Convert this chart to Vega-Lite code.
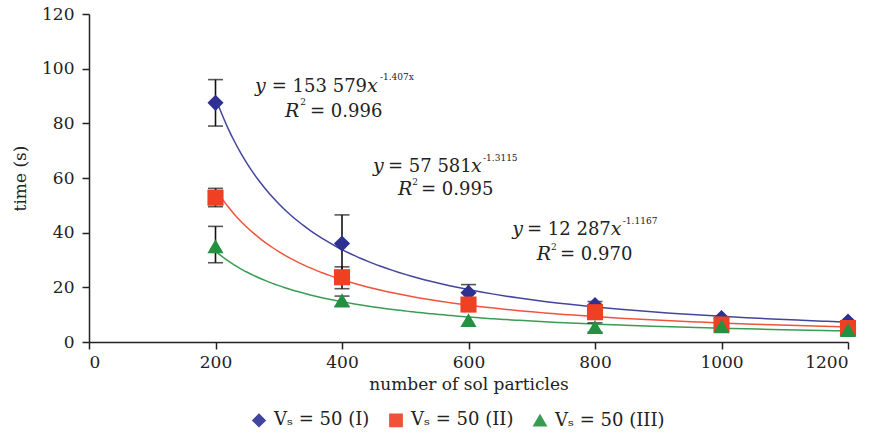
{
  "$schema": "https://vega.github.io/schema/vega-lite/v6.json",
  "width": 759,
  "height": 328,
  "autosize": {"type": "none"},
  "padding": {"left": 89, "top": 14, "right": 22, "bottom": 92},
  "background": "white",
  "config": {
    "view": {"stroke": null},
    "font": "DejaVu Serif",
    "axis": {
      "grid": false,
      "domainColor": "#222",
      "domainWidth": 1.5,
      "tickColor": "#222",
      "tickWidth": 1.5,
      "tickSize": 7,
      "labelFont": "DejaVu Serif",
      "labelFontSize": 17,
      "labelColor": "#222",
      "titleFont": "DejaVu Serif",
      "titleFontSize": 17,
      "titleFontWeight": "normal",
      "titleColor": "#222"
    },
    "legend": {
      "labelFont": "DejaVu Serif",
      "labelFontSize": 18,
      "labelColor": "#222"
    }
  },
  "datasets": {
    "pts": [
      {"n": 200, "t": 87.5, "lo": 79, "hi": 96, "s": "Vₛ = 50 (I)"},
      {"n": 400, "t": 36, "lo": 26, "hi": 46.5, "s": "Vₛ = 50 (I)"},
      {"n": 600, "t": 18, "lo": 15.5, "hi": 21, "s": "Vₛ = 50 (I)"},
      {"n": 800, "t": 13.5, "lo": 12, "hi": 14.8, "s": "Vₛ = 50 (I)"},
      {"n": 1000, "t": 8.8, "lo": null, "hi": null, "s": "Vₛ = 50 (I)"},
      {"n": 1200, "t": 7.5, "lo": null, "hi": null, "s": "Vₛ = 50 (I)"},
      {"n": 200, "t": 52.8, "lo": 49.5, "hi": 56.2, "s": "Vₛ = 50 (II)"},
      {"n": 400, "t": 23.7, "lo": 19.5, "hi": 27.5, "s": "Vₛ = 50 (II)"},
      {"n": 600, "t": 13.7, "lo": null, "hi": null, "s": "Vₛ = 50 (II)"},
      {"n": 800, "t": 10.9, "lo": null, "hi": null, "s": "Vₛ = 50 (II)"},
      {"n": 1000, "t": 6.4, "lo": null, "hi": null, "s": "Vₛ = 50 (II)"},
      {"n": 1200, "t": 5.1, "lo": null, "hi": null, "s": "Vₛ = 50 (II)"},
      {"n": 200, "t": 35, "lo": 29, "hi": 42.3, "s": "Vₛ = 50 (III)"},
      {"n": 400, "t": 15.3, "lo": 13, "hi": 16.8, "s": "Vₛ = 50 (III)"},
      {"n": 600, "t": 8, "lo": null, "hi": null, "s": "Vₛ = 50 (III)"},
      {"n": 800, "t": 5.5, "lo": 3.6, "hi": 7, "s": "Vₛ = 50 (III)"},
      {"n": 1000, "t": 5.8, "lo": null, "hi": null, "s": "Vₛ = 50 (III)"},
      {"n": 1200, "t": 4.4, "lo": null, "hi": null, "s": "Vₛ = 50 (III)"}
    ],
    "ital": [
      {"x": 262.5, "y": 91.5, "text": "y"},
      {"x": 439.5, "y": 91.5, "text": "x"},
      {"x": 310, "y": 82.3, "text": "R"},
      {"x": 449, "y": 62.2, "text": "y"},
      {"x": 604, "y": 62.2, "text": "x"},
      {"x": 488.5, "y": 53.8, "text": "R"},
      {"x": 669, "y": 39.2, "text": "y"},
      {"x": 825, "y": 39.2, "text": "x"},
      {"x": 708, "y": 30.0, "text": "R"}
    ],
    "upright": [
      {"x": 289, "y": 91.5, "text": "= 153 579"},
      {"x": 349.4, "y": 82.3, "text": "= 0.996"},
      {"x": 472.7, "y": 62.2, "text": "= 57 581"},
      {"x": 525, "y": 53.8, "text": "= 0.995"},
      {"x": 692.5, "y": 39.2, "text": "= 12 287"},
      {"x": 744.7, "y": 30.0, "text": "= 0.970"}
    ],
    "sup": [
      {"x": 460, "y": 95.9, "text": "-1.407x"},
      {"x": 334, "y": 86.6, "text": "2"},
      {"x": 623, "y": 66.2, "text": "-1.3115"},
      {"x": 511, "y": 57.3, "text": "2"},
      {"x": 844, "y": 43.2, "text": "-1.1167"},
      {"x": 730.6, "y": 33.5, "text": "2"}
    ]
  },
  "layer": [
    {
      "data": {"name": "pts"},
      "transform": [
        {"regression": "t", "on": "n", "groupby": ["s"], "method": "pow", "extent": [200, 1200]}
      ],
      "mark": {"type": "line", "strokeWidth": 1.5, "interpolate": "monotone", "opacity": 0.9},
      "encoding": {
        "x": {"field": "n", "type": "quantitative", "scale": {"domain": [0, 1200], "nice": false},
              "axis": {"values": [0, 200, 400, 600, 800, 1000, 1200], "format": "d", "labelPadding": 5, "titlePadding": 6},
              "title": "number of sol particles"},
        "y": {"field": "t", "type": "quantitative", "scale": {"domain": [0, 120], "nice": false},
              "axis": {"values": [0, 20, 40, 60, 80, 100, 120], "labelPadding": 8, "titlePadding": 12},
              "title": "time (s)"},
        "color": {"field": "s", "type": "nominal"}
      }
    },
    {
      "data": {"name": "pts"},
      "transform": [{"filter": "isValid(datum.lo)"}],
      "mark": {"type": "errorbar", "ticks": {"size": 15, "color": "#111", "strokeWidth": 1.6}, "color": "#111", "thickness": 1.6},
      "encoding": {
        "x": {"field": "n", "type": "quantitative", "title": "number of sol particles"},
        "y": {"field": "lo", "type": "quantitative", "title": "time (s)"},
        "y2": {"field": "hi"}
      }
    },
    {
      "data": {"name": "pts"},
      "mark": {"type": "point", "filled": true, "opacity": 1, "size": 260},
      "encoding": {
        "x": {"field": "n", "type": "quantitative", "title": "number of sol particles"},
        "y": {"field": "t", "type": "quantitative", "title": "time (s)"},
        "color": {"field": "s", "type": "nominal",
                  "scale": {"domain": ["Vₛ = 50 (I)", "Vₛ = 50 (II)", "Vₛ = 50 (III)"], "range": ["#2E3192", "#EE4023", "#23913F"]},
                  "legend": {"orient": "none", "legendX": 161, "legendY": 397, "direction": "horizontal", "title": null, "symbolSize": 150, "columnPadding": 16, "labelOffset": 6}},
        "shape": {"field": "s", "type": "nominal",
                  "scale": {"domain": ["Vₛ = 50 (I)", "Vₛ = 50 (II)", "Vₛ = 50 (III)"], "range": ["diamond", "square", "triangle-up"]},
                  "legend": {"orient": "none", "legendX": 161, "legendY": 397, "direction": "horizontal", "title": null, "symbolSize": 150, "columnPadding": 16, "labelOffset": 6}}
      }
    },
    {
      "data": {"name": "ital"},
      "mark": {"type": "text", "align": "left", "baseline": "alphabetic", "fontStyle": "italic", "fontSize": 19, "font": "DejaVu Serif", "color": "#222"},
      "encoding": {
        "x": {"field": "x", "type": "quantitative"},
        "y": {"field": "y", "type": "quantitative"},
        "text": {"field": "text"}
      }
    },
    {
      "data": {"name": "upright"},
      "mark": {"type": "text", "align": "left", "baseline": "alphabetic", "fontSize": 18, "font": "DejaVu Serif", "color": "#222"},
      "encoding": {
        "x": {"field": "x", "type": "quantitative"},
        "y": {"field": "y", "type": "quantitative"},
        "text": {"field": "text"}
      }
    },
    {
      "data": {"name": "sup"},
      "mark": {"type": "text", "align": "left", "baseline": "alphabetic", "fontSize": 9, "font": "DejaVu Serif", "color": "#222"},
      "encoding": {
        "x": {"field": "x", "type": "quantitative"},
        "y": {"field": "y", "type": "quantitative"},
        "text": {"field": "text"}
      }
    }
  ]
}
